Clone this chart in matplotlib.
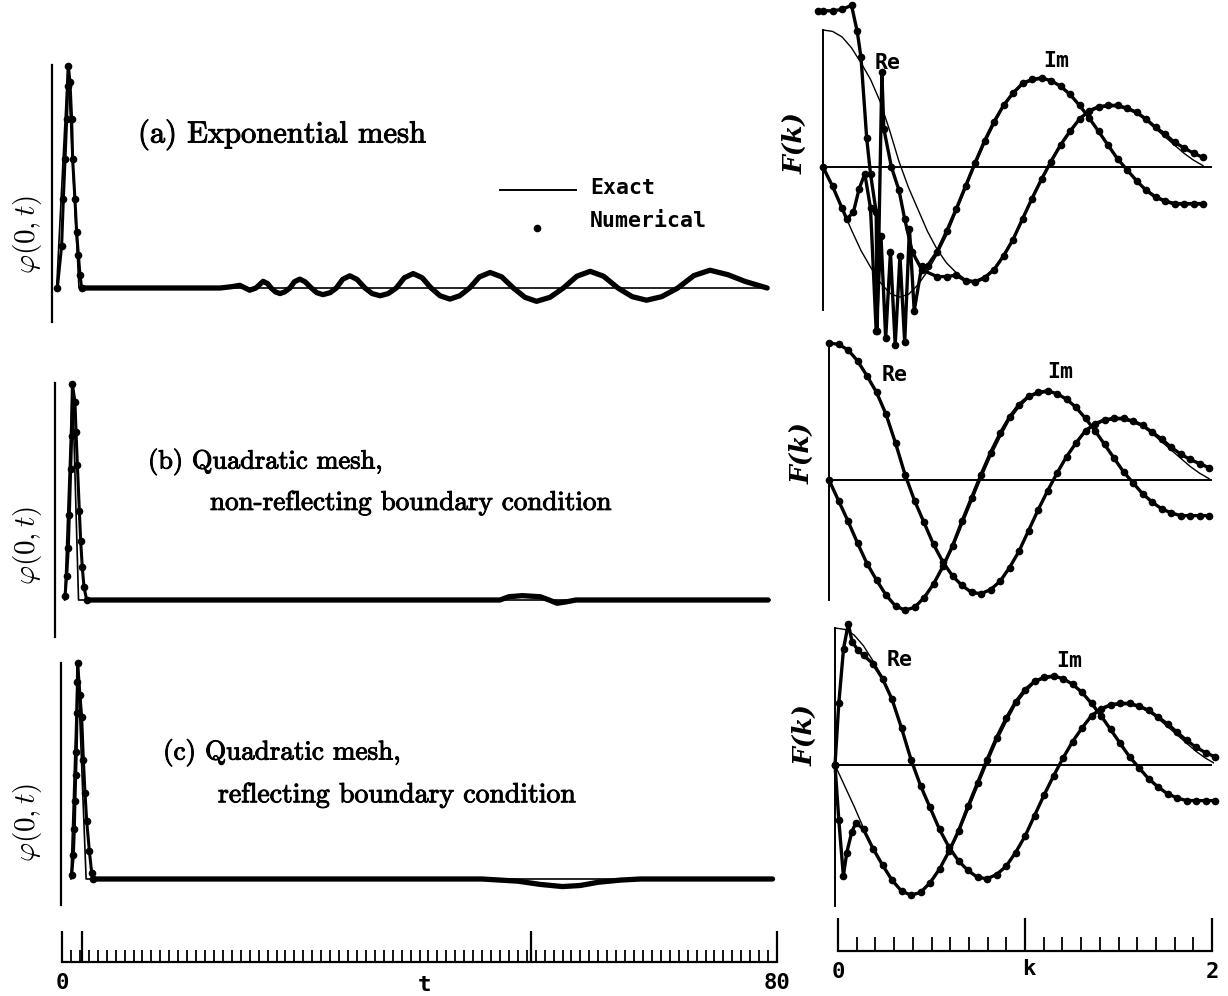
import matplotlib
matplotlib.use("Agg")
import matplotlib.pyplot as plt
import matplotlib.patheffects as pe

W, H = 1228, 996

# ---------------- left column: phi(0,t) ----------------
# pulse of the numerical solution (dots)
pulse_a_t = [-0.52, -0.04, 0.15, 0.34, 0.52, 0.63, 0.71, 0.89, 1.08, 1.19, 1.45, 1.64, 1.83, 2.01, 2.20]
pulse_a_v = [0.0, 0.19, 0.40, 0.58, 0.76, 0.91, 1.0, 0.93, 0.76, 0.58, 0.40, 0.25, 0.15, 0.06, 0.0]
pulse_b_t = [0.34, 0.52, 0.71, 0.82, 0.97, 1.08, 1.16, 1.45, 1.57, 1.72, 1.94, 2.09, 2.27, 2.46, 2.76]
pulse_b_v = [0.02, 0.11, 0.24, 0.39, 0.60, 0.75, 0.99, 0.91, 0.77, 0.62, 0.41, 0.27, 0.15, 0.06, 0.0]
pulse_c_t = [1.08, 1.27, 1.38, 1.45, 1.53, 1.60, 1.68, 1.72, 1.75, 2.01, 2.20, 2.39, 2.57, 2.76, 3.06, 3.32, 3.50]
pulse_c_v = [0.02, 0.11, 0.23, 0.36, 0.48, 0.59, 0.77, 0.91, 1.0, 0.85, 0.75, 0.55, 0.40, 0.27, 0.13, 0.03, 0.0]

# tail of the numerical solution after the pulse
tail_a_t = [2.2, 17.7, 19.0, 19.9, 20.5, 21.0, 21.7, 22.5, 23.0, 23.4, 23.9, 24.4, 24.9, 25.5,
            26.0, 26.6, 27.2, 27.9, 28.5, 29.2, 30.0, 30.7, 31.4, 32.2, 33.0, 33.9, 34.7, 35.6,
            36.5, 37.4, 38.3, 39.3, 40.3, 41.3, 42.3, 43.4, 44.5, 45.6, 46.7, 47.9, 49.2, 50.5,
            51.8, 53.1, 54.6, 56.1, 57.6, 59.1, 60.6, 62.2, 63.8, 65.4, 67.1, 68.9, 70.7, 72.5,
            74.5, 76.4, 78.9]
tail_a_v = [0.0, 0.0, 0.006, 0.012, 0.0, -0.01, 0.0, 0.03, 0.02, 0.0, -0.018, -0.025, -0.018, 0.0,
            0.028, 0.04, 0.028, 0.0, -0.021, -0.03, -0.021, 0.0, 0.039, 0.055, 0.039, 0.0, -0.025, -0.035,
            -0.025, 0.0, 0.046, 0.065, 0.046, 0.0, -0.035, -0.05, -0.035, 0.0, 0.05, 0.07, 0.05, 0.0,
            -0.042, -0.06, -0.042, 0.0, 0.053, 0.075, 0.053, 0.0, -0.039, -0.055, -0.039, 0.0, 0.056, 0.08,
            0.06, 0.03, 0.0]
tail_b_t = [2.8, 49.0, 50.0, 51.5, 53.5, 54.5, 55.4, 56.5, 57.5, 79.0]
tail_b_v = [0.0, 0.0, 0.015, 0.02, 0.015, 0.0, -0.015, -0.008, 0.0, 0.0]
tail_c_t = [3.5, 47.0, 49.0, 51.0, 53.5, 56.0, 58.0, 60.0, 62.5, 64.7, 79.5]
tail_c_v = [0.0, 0.0, -0.005, -0.01, -0.025, -0.035, -0.03, -0.015, -0.005, 0.0, 0.0]

# exact solution: triangular pulse then zero
exact_a_t, exact_a_v = [-0.6, 0.65, 1.9, 78.6], [0.0, 1.0, 0.0, 0.0]
exact_b_t, exact_b_v = [0.3, 1.16, 1.85, 79.2], [0.0, 1.0, 0.0, 0.0]
exact_c_t, exact_c_v = [1.0, 1.75, 2.7, 79.4], [0.0, 1.0, 0.0, 0.0]

# caption lines: (text, left px, centre y px, size)
captions = [("(a) Exponential mesh", 138, 135, 22),
            ("(b) Quadratic mesh,", 148, 462, 19),
            ("non-reflecting boundary condition", 210, 503, 19.5),
            ("(c) Quadratic mesh,", 163, 753, 19.5),
            ("reflecting boundary condition", 218, 795, 20)]

# ---------------- right column: F(k) ----------------
k_ex = [0.00, 0.05, 0.10, 0.15, 0.20, 0.25, 0.30, 0.35, 0.40, 0.45, 0.50, 0.55, 0.60, 0.65,
        0.70, 0.75, 0.80, 0.85, 0.90, 0.95, 1.00, 1.05, 1.10, 1.15, 1.20, 1.25, 1.30, 1.35,
        1.40, 1.45, 1.50, 1.55, 1.60, 1.65, 1.70, 1.75, 1.80, 1.85, 1.90, 1.95, 2.00]
re_exact = [1.00, 0.99, 0.95, 0.87, 0.76, 0.64, 0.48, 0.27, 0.04, -0.15, -0.31, -0.47, -0.60, -0.70,
            -0.77, -0.82, -0.83, -0.80, -0.74, -0.64, -0.52, -0.37, -0.22, -0.08, 0.05, 0.17, 0.27, 0.35,
            0.40, 0.43, 0.44, 0.44, 0.42, 0.39, 0.34, 0.28, 0.22, 0.16, 0.10, 0.05, 0.01]
im_exact = [0.00, -0.15, -0.30, -0.46, -0.61, -0.73, -0.84, -0.92, -0.95, -0.93, -0.86, -0.76, -0.64, -0.50,
            -0.33, -0.16, 0.01, 0.17, 0.31, 0.44, 0.53, 0.60, 0.63, 0.64, 0.63, 0.59, 0.53, 0.45,
            0.36, 0.26, 0.16, 0.06, -0.02, -0.10, -0.16, -0.21, -0.24, -0.26, -0.26, -0.26, -0.26]

# panel 1 (exponential mesh) numerical, noisy at small k
re_num_1_k = [-0.025, 0.0, 0.05, 0.10, 0.15, 0.18, 0.20, 0.23, 0.25, 0.28, 0.285, 0.31, 0.32, 0.36,
              0.40, 0.43, 0.47, 0.52, 0.60, 0.65, 0.70, 0.75, 0.80, 0.85, 0.90, 0.95, 1.00, 1.05,
              1.10, 1.15, 1.20, 1.25, 1.30, 1.35, 1.40, 1.45, 1.50, 1.55, 1.60, 1.65, 1.70, 1.75,
              1.80, 1.85, 1.90, 1.95, 2.00]
re_num_1 = [1.14, 1.14, 1.14, 1.15, 1.18, 0.99, 0.80, 0.21, -0.05, -0.33, -1.20, 0.69, 0.28, 0.00,
            -0.17, -0.38, -0.62, -0.75, -0.80, -0.80, -0.79, -0.83, -0.84, -0.81, -0.75, -0.65, -0.53, -0.38,
            -0.23, -0.09, 0.04, 0.16, 0.26, 0.35, 0.41, 0.44, 0.45, 0.45, 0.43, 0.40, 0.35, 0.29,
            0.24, 0.18, 0.14, 0.10, 0.07]
im_num_1_k = [0.0, 0.05, 0.10, 0.125, 0.16, 0.19, 0.22, 0.25, 0.28, 0.305, 0.33, 0.355, 0.38, 0.405,
              0.43, 0.455, 0.48, 0.52, 0.55, 0.60, 0.65, 0.70, 0.75, 0.80, 0.85, 0.90, 0.95,
              1.00, 1.05, 1.10, 1.15, 1.20, 1.25, 1.30, 1.35, 1.40, 1.45, 1.50, 1.55, 1.60, 1.65,
              1.70, 1.75, 1.80, 1.85, 1.90, 1.95, 2.00]
im_num_1 = [0.00, -0.14, -0.30, -0.38, -0.33, -0.16, -0.05, -0.30, -1.20, -0.50, -1.25, -0.62, -1.30, -0.65,
            -1.28, -0.45, -1.05, -0.72, -0.72, -0.62, -0.47, -0.31, -0.14, 0.03, 0.19, 0.33, 0.45,
            0.54, 0.61, 0.64, 0.65, 0.63, 0.59, 0.53, 0.45, 0.36, 0.26, 0.16, 0.06, -0.02, -0.10,
            -0.17, -0.22, -0.25, -0.27, -0.27, -0.27, -0.27]

# panel 2 numerical
re_num_2 = [1.00, 0.99, 0.95, 0.87, 0.76, 0.64, 0.48, 0.27, 0.04, -0.15, -0.31, -0.47, -0.60, -0.70,
            -0.77, -0.82, -0.83, -0.80, -0.74, -0.64, -0.52, -0.37, -0.22, -0.08, 0.05, 0.17, 0.27, 0.36,
            0.41, 0.44, 0.45, 0.45, 0.43, 0.40, 0.35, 0.30, 0.24, 0.19, 0.15, 0.12, 0.09]
im_num_2 = [0.00, -0.15, -0.30, -0.46, -0.61, -0.73, -0.84, -0.92, -0.95, -0.93, -0.86, -0.76, -0.63, -0.48,
            -0.30, -0.13, 0.04, 0.20, 0.34, 0.46, 0.55, 0.61, 0.64, 0.65, 0.63, 0.59, 0.53, 0.45,
            0.36, 0.26, 0.16, 0.06, -0.02, -0.10, -0.16, -0.21, -0.24, -0.26, -0.26, -0.26, -0.26]

# panel 3 numerical, spiky near k = 0
re_num_3_k = [0.0, 0.02, 0.045, 0.07, 0.09, 0.12, 0.15, 0.20, 0.25, 0.30, 0.35, 0.40, 0.45, 0.50,
              0.55, 0.60, 0.65, 0.70, 0.75, 0.80, 0.85, 0.90, 0.95, 1.00, 1.05, 1.10, 1.15, 1.20,
              1.25, 1.30, 1.35, 1.40, 1.45, 1.50, 1.55, 1.60, 1.65, 1.70, 1.75, 1.80, 1.85, 1.90,
              1.95, 2.00]
re_num_3 = [0.0, 0.45, 0.85, 1.03, 0.90, 0.84, 0.80, 0.74, 0.63, 0.48, 0.27, 0.04, -0.15, -0.31,
            -0.47, -0.60, -0.70, -0.77, -0.82, -0.83, -0.80, -0.74, -0.64, -0.52, -0.37, -0.22, -0.08, 0.05,
            0.17, 0.27, 0.36, 0.41, 0.44, 0.45, 0.45, 0.43, 0.40, 0.35, 0.30, 0.24, 0.18, 0.13,
            0.09, 0.06]
im_num_3_k = [0.0, 0.02, 0.044, 0.062, 0.088, 0.11, 0.15, 0.20, 0.25, 0.30, 0.35, 0.40, 0.45, 0.50,
              0.55, 0.60, 0.65, 0.70, 0.75, 0.80, 0.85, 0.90, 0.95, 1.00, 1.05, 1.10, 1.15, 1.20,
              1.25, 1.30, 1.35, 1.40, 1.45, 1.50, 1.55, 1.60, 1.65, 1.70, 1.75, 1.80, 1.85, 1.90,
              1.95, 2.00]
im_num_3 = [0.0, -0.40, -0.81, -0.64, -0.49, -0.42, -0.47, -0.61, -0.73, -0.84, -0.92, -0.95, -0.93, -0.86,
            -0.76, -0.63, -0.48, -0.30, -0.13, 0.04, 0.20, 0.34, 0.46, 0.55, 0.61, 0.64, 0.65, 0.63,
            0.59, 0.53, 0.45, 0.36, 0.26, 0.16, 0.06, -0.02, -0.10, -0.16, -0.21, -0.24, -0.26, -0.26,
            -0.26, -0.26]

# bottom scales
t_ticks_major = [0, 2.2, 52.5, 80]
t_labels = ["0", "", "", "80"]
k_ticks_major = [0, 1, 2]
k_labels = ["0", "", "2"]

# ---------------- drawing ----------------
fig = plt.figure(figsize=(W / 100, H / 100), dpi=100)
fig.patch.set_facecolor("white")
plt.rcParams["mathtext.fontset"] = "cm"
ink = [pe.withStroke(linewidth=0.7, foreground="black")]


def box(left, top, right, bottom):
    ax = fig.add_axes([left / W, 1 - bottom / H, (right - left) / W, (bottom - top) / H])
    ax.set_facecolor("none")
    for s in ["top", "right", "bottom"]:
        ax.spines[s].set_visible(False)
    ax.set_xticks([])
    ax.set_yticks([])
    return ax


mono = dict(family="DejaVu Sans Mono", weight="bold")

# left panels: (spine x, top, bottom, baseline, px per unit)
left_geo = [(52, 65, 322, 288, 222), (55, 383, 637, 600, 218), (61, 663, 905, 879, 216)]
left_data = [(pulse_a_t, pulse_a_v, tail_a_t, tail_a_v, exact_a_t, exact_a_v),
             (pulse_b_t, pulse_b_v, tail_b_t, tail_b_v, exact_b_t, exact_b_v),
             (pulse_c_t, pulse_c_v, tail_c_t, tail_c_v, exact_c_t, exact_c_v)]
ylab_y = [234, 545, 822]
t0_px, t_scale = 62, 8.94

for i, (geo, d) in enumerate(zip(left_geo, left_data)):
    sx, top, bot, base, u = geo
    ax = box(sx, top, 777, bot)
    ax.set_xlim((sx - t0_px) / t_scale, 80)
    ax.set_ylim((base - bot) / u, (base - top) / u)
    ax.spines["left"].set_linewidth(1.6)
    pt, pv, tt, tv, et, ev = d
    ax.plot(et, ev, color="black", lw=1.2, clip_on=False)
    ax.plot(tt, tv, color="black", lw=3.8, solid_joinstyle="round", solid_capstyle="round",
            clip_on=False)
    ax.plot(pt, pv, color="black", lw=2.2, marker="o", ms=4.5, clip_on=False)
    fig.text(27 / W, 1 - ylab_y[i] / H, r"$\varphi(0,t)$", fontsize=21, rotation=90,
             va="center", ha="center")

for txt, x, y, size in captions:
    fig.text(x / W, 1 - y / H, txt, fontsize=size, va="center", ha="left",
             family="cmr10", path_effects=ink)

# legend in panel (a)
fig.add_artist(plt.Line2D([500 / W, 576 / W], [1 - 190 / H, 1 - 190 / H], color="black", lw=1.4))
fig.add_artist(plt.Line2D([537 / W], [1 - 228 / H], color="black", marker="o", ms=4.5, lw=0))
fig.text(590 / W, 1 - 188 / H, "Exact", fontsize=15.5, va="center", ha="left", **mono)
fig.text(590 / W, 1 - 221 / H, "Numerical", fontsize=15.5, va="center", ha="left", **mono)

# right panels: (spine x, zero y, spine top, spine bottom, box top, box bottom)
right_geo = [(823, 167, 30, 310, 0, 360), (829, 480, 345, 600, 330, 620), (835, 765, 628, 906, 615, 920)]
k_scale, f_scale = 190, 137
right_num = [(re_num_1_k, re_num_1, im_num_1_k, im_num_1),
             (k_ex, re_num_2, k_ex, im_num_2),
             (re_num_3_k, re_num_3, im_num_3_k, im_num_3)]
re_pos = [(888, 63), (895, 375), (900, 660)]
im_pos = [(1056, 61), (1060, 372), (1069, 661)]
fk_pos = [(795, 143), (802, 453), (805, 735)]

for i, (geo, d) in enumerate(zip(right_geo, right_num)):
    sx, zy, st, sb, bt, bb = geo
    left_px = 812
    ax = box(left_px, bt, 1214, bb)
    ax.set_xlim((left_px - sx) / k_scale, (1214 - sx) / k_scale)
    ax.set_ylim((zy - bb) / f_scale, (zy - bt) / f_scale)
    ax.spines["left"].set_position(("data", 0))
    ax.spines["left"].set_bounds((zy - sb) / f_scale, (zy - st) / f_scale)
    ax.spines["left"].set_linewidth(1.4)
    ax.plot([0, (1211 - sx) / k_scale], [0, 0], color="black", lw=1.4)
    ax.plot(k_ex, re_exact, color="black", lw=1.0)
    ax.plot(k_ex, im_exact, color="black", lw=1.0)
    rk, rv, ik, iv = d
    ax.plot(rk, rv, color="black", lw=2.4, marker="o", ms=4.5, clip_on=False)
    ax.plot(ik, iv, color="black", lw=2.4, marker="o", ms=4.5, clip_on=False)
    fig.text(re_pos[i][0] / W, 1 - re_pos[i][1] / H, "Re", fontsize=15.5, va="center", ha="center", **mono)
    fig.text(im_pos[i][0] / W, 1 - im_pos[i][1] / H, "Im", fontsize=15.5, va="center", ha="center", **mono)
    fig.text(fk_pos[i][0] / W, 1 - fk_pos[i][1] / H, "F(k)", fontsize=19, rotation=90,
             va="center", ha="center", family="DejaVu Serif", style="italic", weight="bold")

# bottom scale, t
axt = fig.add_axes([62 / W, 1 - 962 / H, (777 - 62) / W, 30 / H])
axt.set_facecolor("none")
for s in ["top", "right", "left"]:
    axt.spines[s].set_visible(False)
axt.spines["bottom"].set_linewidth(1.6)
axt.set_xlim(0, 80)
axt.set_yticks([])
axt.set_xticks(t_ticks_major, t_labels)
axt.set_xticks(list(range(0, 81)), minor=True)
axt.tick_params(axis="x", which="major", direction="in", length=22, width=1.6, pad=8, labelsize=16)
axt.tick_params(axis="x", which="minor", direction="in", length=9, width=1.3)
for lab in axt.get_xticklabels():
    lab.set_fontfamily("DejaVu Sans Mono")
    lab.set_fontweight("bold")
axt.text(40.5, -0.75, "t", transform=axt.get_xaxis_transform(), ha="center", va="center",
         fontsize=16, **mono)

# bottom scale, k
axk = fig.add_axes([838 / W, 1 - 951 / H, (1212 - 838) / W, 30 / H])
axk.set_facecolor("none")
for s in ["top", "right", "left"]:
    axk.spines[s].set_visible(False)
axk.spines["bottom"].set_linewidth(1.6)
axk.set_xlim(0, 2)
axk.set_yticks([])
axk.set_xticks(k_ticks_major, k_labels)
axk.set_xticks([x / 10 for x in range(0, 21)], minor=True)
axk.tick_params(axis="x", which="major", direction="in", length=24, width=1.6, pad=8, labelsize=16)
axk.tick_params(axis="x", which="minor", direction="in", length=10, width=1.3)
for lab in axk.get_xticklabels():
    lab.set_fontfamily("DejaVu Sans Mono")
    lab.set_fontweight("bold")
axk.text(1.02, -0.6, "k", transform=axk.get_xaxis_transform(), ha="center", va="center",
         fontsize=16, **mono)

fig.savefig("out.png", dpi=100, facecolor="white")
